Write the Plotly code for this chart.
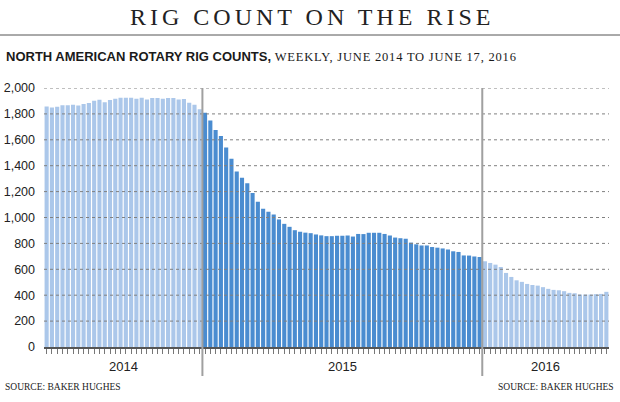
import plotly.graph_objects as go

# ---- data ----
years = ["2014", "2015", "2016"]
rigs_2014 = [1857, 1850, 1855, 1867, 1867, 1870, 1865, 1877, 1885, 1902,
             1910, 1890, 1907, 1917, 1925, 1925, 1925, 1917, 1925, 1912,
             1922, 1922, 1917, 1922, 1922, 1912, 1915, 1887, 1870, 1835]
rigs_2015 = [1808, 1749, 1675, 1630, 1541, 1454, 1356, 1306, 1264, 1190,
             1121, 1067, 1044, 1024, 985, 951, 928, 902, 890, 883,
             879, 869, 862, 856, 856, 859, 859, 861, 853, 873,
             872, 882, 882, 882, 873, 861, 845, 840, 836, 806,
             793, 784, 784, 772, 767, 761, 753, 739, 734, 707,
             706, 699, 695]
rigs_2016 = [662, 649, 636, 618, 572, 541, 515, 503, 487, 479,
             474, 462, 449, 441, 438, 431, 418, 415, 405, 405,
             405, 408, 410, 426]
y_ticks = [0, 200, 400, 600, 800, 1000, 1200, 1400, 1600, 1800, 2000]
y_tick_labels = ["0", "200", "400", "600", "800", "1,000", "1,200",
                 "1,400", "1,600", "1,800", "2,000"]

LIGHT = "#abc7ea"
DARK = "#4a8cd0"

series = [rigs_2014, rigs_2015, rigs_2016]
colors = [LIGHT, DARK, LIGHT]

L, R, T, B = 44, 11, 88, 55
W, H = 620, 402
PW, PH = W - L - R, H - T - B


def px_x(px):
    return (px - L) / PW


def px_y(py):
    return (H - B - py) / PH


fig = go.Figure()
start = 0
bounds = []
for vals, col in zip(series, colors):
    xs = list(range(start, start + len(vals)))
    fig.add_trace(go.Bar(
        x=xs, y=vals, marker=dict(color=col, line=dict(width=0)),
        hoverinfo="x+y", showlegend=False))
    bounds.append((start - 0.5, start + len(vals) - 0.5))
    start += len(vals)
n_total = start

# dotted gridlines drawn above the bars
for t in y_ticks[1:]:
    fig.add_shape(type="line", xref="paper", x0=0, x1=1, yref="y", y0=t, y1=t,
                  line=dict(color="#808080", width=1, dash="dot"), layer="above")

# year separators
for b in bounds[:-1]:
    fig.add_shape(type="line", xref="x", x0=b[1], x1=b[1], yref="paper",
                  y0=1, y1=px_y(376), line=dict(color="#a0a0a0", width=2),
                  layer="above")

# year labels
for yr, b in zip(years, bounds):
    fig.add_annotation(x=(b[0] + b[1]) / 2, xref="x", y=px_y(366), yref="paper",
                       text=yr, showarrow=False, yanchor="middle",
                       font=dict(family="Liberation Sans", size=13, color="#222"))

# title
fig.add_annotation(
    xref="paper", x=px_x(312), yref="paper", y=px_y(17),
    xanchor="center", yanchor="middle", showarrow=False,
    text='<span style="letter-spacing:4px">RIG COUNT ON THE RISE</span>',
    font=dict(family="Liberation Serif", size=24, color="#222"))

# subtitle
fig.add_annotation(
    xref="paper", x=px_x(4), yref="paper", y=px_y(56),
    xanchor="left", yanchor="middle", showarrow=False,
    text=('<span style="font-family:\'Liberation Sans Narrow\', \'Liberation Sans\';font-weight:bold;font-size:13px">'
          'NORTH AMERICAN ROTARY RIG COUNTS,</span>'
          '<span style="font-family:\'Liberation Serif\';font-size:12.5px;letter-spacing:0.8px"> WEEKLY, JUNE 2014 TO JUNE 17, 2016</span>'),
    font=dict(color="#1a1a1a"))

# sources
for xa, anchor in [(px_x(3), "left"), (px_x(616), "right")]:
    fig.add_annotation(xref="paper", x=xa, yref="paper", y=px_y(387),
                       xanchor=anchor, yanchor="middle", showarrow=False,
                       text="SOURCE: BAKER HUGHES",
                       font=dict(family="Liberation Serif", size=9.5, color="#222"))

# top rule
fig.add_shape(type="line", xref="paper", x0=px_x(0), x1=px_x(620),
              yref="paper", y0=px_y(35), y1=px_y(35),
              line=dict(color="#555", width=1))

fig.update_layout(
    width=W, height=H,
    margin=dict(l=L, r=R, t=T, b=B, autoexpand=False),
    paper_bgcolor="white", plot_bgcolor="white",
    bargap=0.22, barmode="overlay",
    xaxis=dict(range=[-0.5, n_total - 0.5], tickmode="linear", tick0=0, dtick=1,
               showticklabels=False, ticks="outside", ticklen=5, tickwidth=1,
               tickcolor="#777", showline=True, linecolor="#555", linewidth=1.5,
               showgrid=False, zeroline=False, fixedrange=True, automargin=False),
    yaxis=dict(range=[0, 2000], tickvals=y_ticks, ticktext=y_tick_labels,
               showgrid=False, zeroline=False, ticks="", ticklabelstandoff=8,
               tickfont=dict(family="Liberation Sans", size=12.5, color="#222"),
               fixedrange=True, automargin=False),
)

fig.write_html("out.html", config={"displayModeBar": False},
               post_script="document.body.style.margin='0';")
